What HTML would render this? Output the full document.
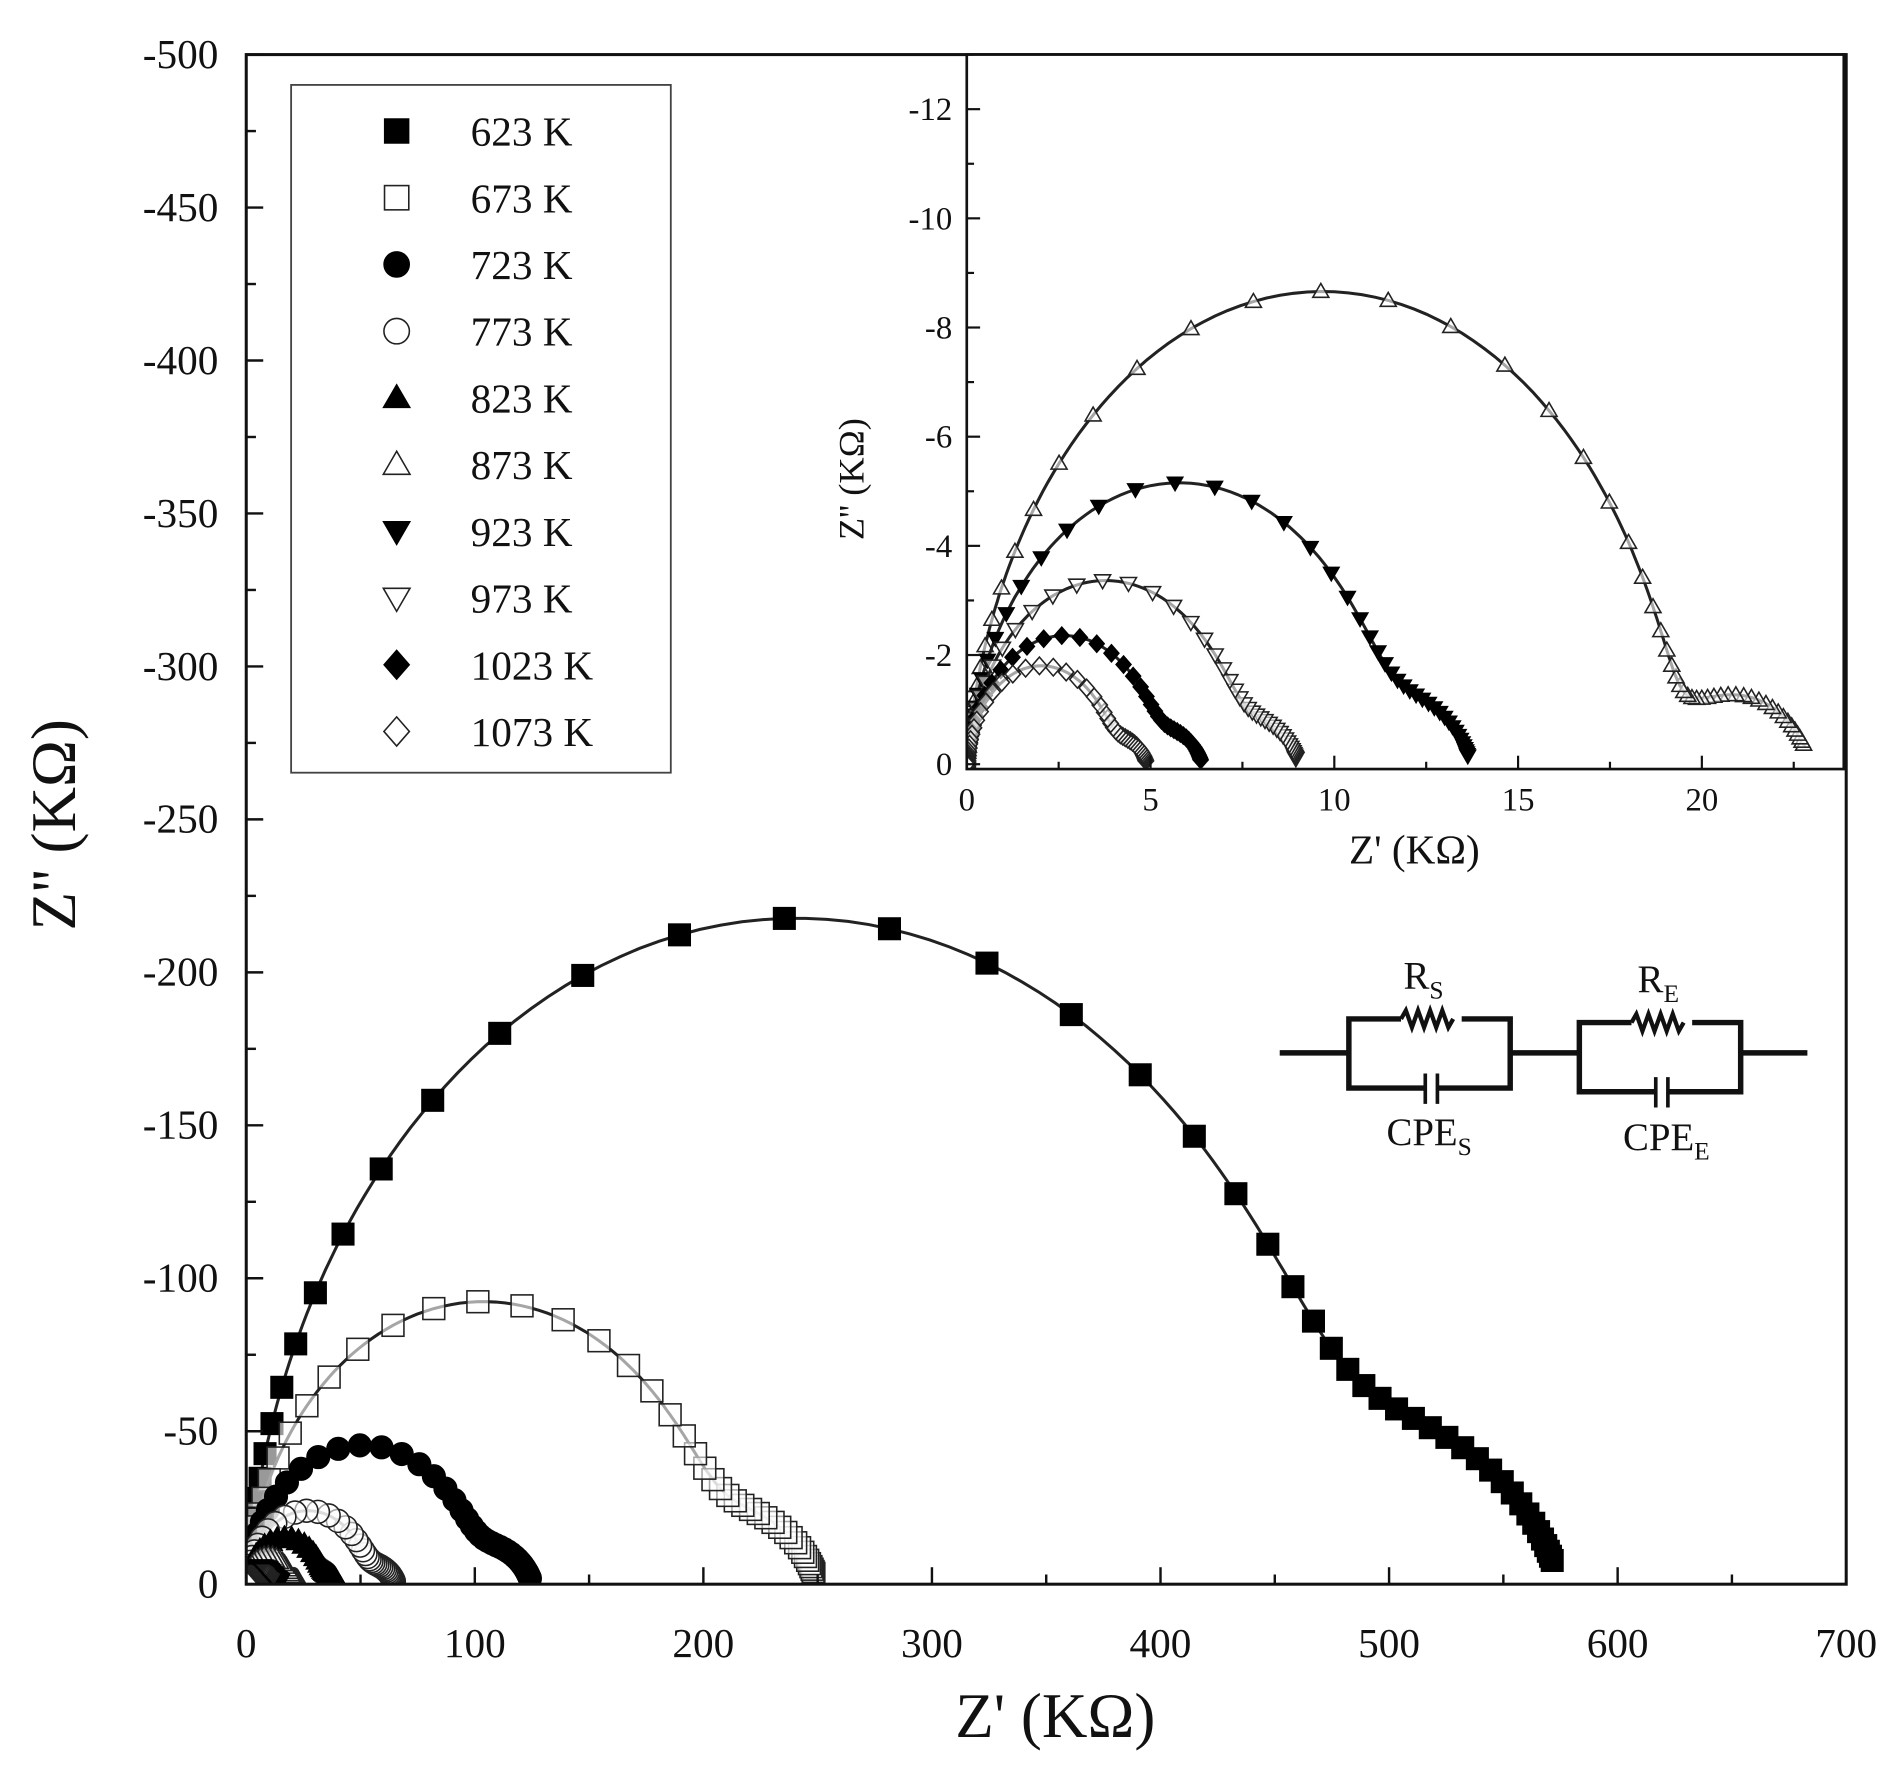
<!DOCTYPE html>
<html><head><meta charset="utf-8"><style>
html,body{margin:0;padding:0;background:#fff;}
svg{display:block;}
text{font-family:"Liberation Serif",serif;fill:#111;}
</style></head><body>
<svg id="s" width="1902" height="1771" viewBox="0 0 1568 1460" preserveAspectRatio="none" xmlns="http://www.w3.org/2000/svg">
<defs>
<clipPath id="cm"><rect x="203" y="45" width="1319" height="1261"/></clipPath>
<clipPath id="ci"><rect x="797" y="45" width="723" height="589"/></clipPath>
</defs>
<g id="main" clip-path="url(#cm)"></g>
<g id="axes"></g>
<rect x="240" y="70" width="313" height="567" fill="#fff" stroke="#444" stroke-width="1.5"/>
<g id="legend"></g>
<rect x="797" y="45" width="723" height="589" fill="#fff"/>
<g id="inset" clip-path="url(#ci)"></g>
<g id="iaxes"></g>
<g id="circ" stroke="#111" stroke-width="4.5" fill="none">
<path d="M1055 868 H1112 M1245 868 H1302 M1435 868 H1490"/>
<path d="M1155 840 H1112 V897 H1175 M1185 897 H1245 V840 H1205"/>
<path d="M1155 840 l4 -7 l5 14 l5 -14 l5 14 l5 -14 l5 14 l5 -14 l5 14 l4 -7" stroke-width="3.5"/>
<path d="M1175 885 V910 M1185 885 V910" stroke-width="3"/>
<path d="M1345 843 H1302 V900 H1365 M1375 900 H1435 V843 H1395"/>
<path d="M1345 843 l4 -7 l5 14 l5 -14 l5 14 l5 -14 l5 14 l5 -14 l5 14 l4 -7" stroke-width="3.5"/>
<path d="M1365 888 V913 M1375 888 V913" stroke-width="3"/>
</g>
<text x="1157" y="815" font-size="32">R<tspan font-size="21" dy="8">S</tspan></text>
<text x="1350" y="818" font-size="32">R<tspan font-size="21" dy="8">E</tspan></text>
<text x="1143" y="944" font-size="32">CPE<tspan font-size="21" dy="8">S</tspan></text>
<text x="1338" y="948" font-size="32">CPE<tspan font-size="21" dy="8">E</tspan></text>
</svg>
<script>
const NS="http://www.w3.org/2000/svg";
function el(p,t,a,txt){const e=document.createElementNS(NS,t);for(const k in a)e.setAttribute(k,a[k]);if(txt!==undefined)e.textContent=txt;p.appendChild(e);return e;}
const $=id=>document.getElementById(id);
function zarc(R,tau,a,w){const m=Math.pow(w*tau,a), th=a*Math.PI/2;
 const re=1+m*Math.cos(th), im=m*Math.sin(th);const d=re*re+im*im; return [R*re/d,-R*im/d];}
function Z(p,w){const a=zarc(p[0],1,p[1],w),b=zarc(p[2],p[3]||40,p[4]||0.75,w);return [a[0]+b[0],a[1]+b[1]];}
const series=[
 {n:"623 K",m:"sq",f:1,p:[465,0.94,110],k:"m"},
 {n:"673 K",m:"sq",f:0,p:[200,0.93,50],k:"m"},
 {n:"723 K",m:"ci",f:1,p:[98,0.93,27],k:"m"},
 {n:"773 K",m:"ci",f:0,p:[52,0.93,13],k:"m"},
 {n:"823 K",m:"tu",f:1,p:[33,0.93,7],k:"m"},
 {n:"873 K",m:"tu",f:0,p:[19.2,0.93,3.8,300,0.7],k:"i"},
 {n:"923 K",m:"td",f:1,p:[11.2,0.93,2.5],k:"i"},
 {n:"973 K",m:"td",f:0,p:[7.3,0.93,1.7],k:"i"},
 {n:"1023 K",m:"di",f:1,p:[5.1,0.93,1.3],k:"i"},
 {n:"1073 K",m:"di",f:0,p:[3.9,0.93,1.0],k:"i"}];
function marker(g,t,f,x,y,s){
 const st=f?{fill:"#000",stroke:"#000","stroke-width":1}:{fill:"#fff","fill-opacity":0.6,stroke:"#222","stroke-width":1.3};
 const h=s/2;
 if(t=="sq")el(g,"rect",Object.assign({x:x-h,y:y-h,width:s,height:s},st));
 else if(t=="ci")el(g,"circle",Object.assign({cx:x,cy:y,r:h*1.05},st));
 else if(t=="tu")el(g,"polygon",Object.assign({points:`${x},${y-h*1.1} ${x-h*1.1},${y+h*0.8} ${x+h*1.1},${y+h*0.8}`},st));
 else if(t=="td")el(g,"polygon",Object.assign({points:`${x},${y+h*1.1} ${x-h*1.1},${y-h*0.8} ${x+h*1.1},${y-h*0.8}`},st));
 else el(g,"polygon",Object.assign({points:`${x},${y-h*1.2} ${x+h*1.05},${y} ${x},${y+h*1.2} ${x-h*1.05},${y}`},st));
}
function plot(g,X,Y,ms,list,lo){
 list.forEach(s=>{
  const lmin=lo-(s.p[3]==300?0.6:0);
  let d="";for(let l=lmin-0.1;l<=4.8;l+=0.02){const z=Z(s.p,Math.pow(10,l));d+=(d?"L":"M")+X(z[0]).toFixed(1)+" "+Y(z[1]).toFixed(1);}
  el(g,"path",{d:d,fill:"none",stroke:"#222","stroke-width":2.5});
  for(let l=lmin;l<=4.5;l+=0.1){const z=Z(s.p,Math.pow(10,l));marker(g,s.m,s.f,X(z[0]),Y(z[1]),ms);}
 });
}
const mX=v=>203+v*1319/700, mY=v=>1306+v*1261/500;
plot($("main"),mX,mY,18,series,-3.1);
const ax=$("axes");
el(ax,"rect",{x:203,y:45,width:1319,height:1261,fill:"none",stroke:"#111","stroke-width":2.5});
for(let v=0;v<=700;v+=50){const x=mX(v),L=v%100?8:14;el(ax,"line",{x1:x,y1:1306,x2:x,y2:1306-L,stroke:"#111","stroke-width":2});
 if(v%100==0)el(ax,"text",{x:x,y:1366,"font-size":34,"text-anchor":"middle"},v);}
for(let v=0;v<=500;v+=25){const y=mY(-v),L=v%50?8:14;el(ax,"line",{x1:203,y1:y,x2:203+L,y2:y,stroke:"#111","stroke-width":2});
 if(v%50==0)el(ax,"text",{x:180,y:y+11,"font-size":34,"text-anchor":"end"},v?"-"+v:"0");}
el(ax,"text",{x:870,y:1432,"font-size":52,"text-anchor":"middle"},"Z' (KΩ)");
el(ax,"text",{x:0,y:0,"font-size":52,"text-anchor":"middle",transform:"translate(62,680) rotate(-90)"},"Z'' (KΩ)");
const lg=$("legend");
series.forEach((s,i)=>{const y=108+i*55;marker(lg,s.m,s.f,327,y,20);el(lg,"text",{x:388,y:y+12,"font-size":34},s.n);});
const iX=v=>797+v*30.3, iY=v=>630+v*45;
plot($("inset"),iX,iY,12,series.filter(s=>s.k=="i"),-3.2);
const ia=$("iaxes");
el(ia,"rect",{x:797,y:45,width:723,height:589,fill:"none",stroke:"#111","stroke-width":2.2});
for(let v=0;v<=23.5;v+=2.5){const x=iX(v),L=(v%5)?6:11;el(ia,"line",{x1:x,y1:634,x2:x,y2:634-L,stroke:"#111","stroke-width":1.8});
 if(v%5==0)el(ia,"text",{x:x,y:668,"font-size":27,"text-anchor":"middle"},v);}
for(let v=0;v<=13;v+=1){const y=iY(-v),L=(v%2)?6:11;el(ia,"line",{x1:797,y1:y,x2:797+L,y2:y,stroke:"#111","stroke-width":1.8});
 if(v%2==0)el(ia,"text",{x:785,y:y+9,"font-size":27,"text-anchor":"end"},v?"-"+v:"0");}
el(ia,"text",{x:1166,y:712,"font-size":34,"text-anchor":"middle"},"Z' (KΩ)");
el(ia,"text",{x:0,y:0,"font-size":30,"text-anchor":"middle",transform:"translate(712,395) rotate(-90)"},"Z'' (KΩ)");
</script>
</body></html>
